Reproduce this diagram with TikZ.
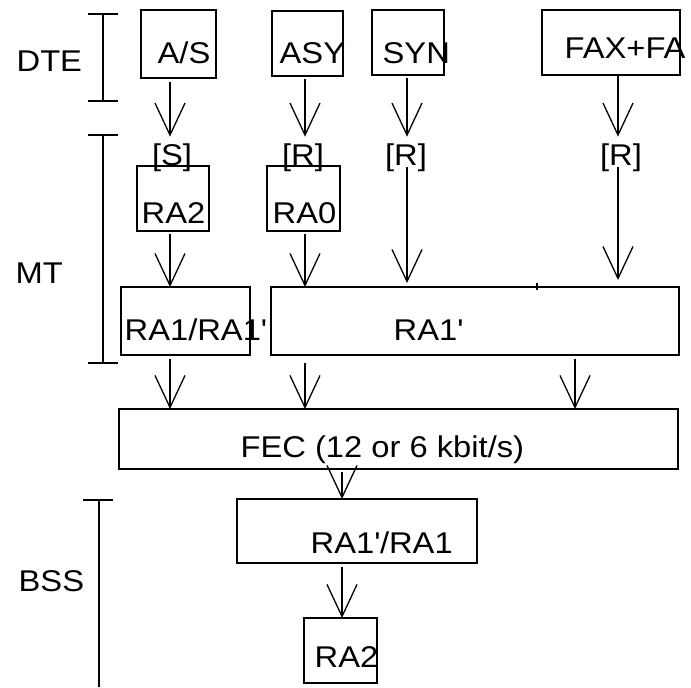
\documentclass[tikz,border=0pt]{standalone}
\usepackage{fontspec}
\setmainfont{Liberation Sans}[FakeStretch=1.09]
\usetikzlibrary{arrows.meta}

\begin{document}
\begin{tikzpicture}[x=0.5pt,y=-0.5pt,>={Straight Barb[length=16pt,width=15pt]},
  font=\fontsize{15}{18}\selectfont,line width=0.65pt,
  box/.style={draw,rectangle,inner sep=0pt,outer sep=0pt},
  txt/.style={inner sep=0pt,anchor=base west},
  lbl/.style={inner sep=3pt,anchor=base},
  brk/.style={line width=1.2pt}]
\useasboundingbox (0,0) rectangle (691,687);
\node[box,minimum width=37.5pt,minimum height=34pt] (as) at (178.5,44) {};
\node[box,minimum width=35.5pt,minimum height=32.5pt] (asy) at (307.5,43.5) {};
\node[box,minimum width=36pt,minimum height=32.5pt] (syn) at (408,42.5) {};
\node[box,minimum width=69pt,minimum height=32.5pt] (fax) at (611,42.5) {};
\node[box,minimum width=36pt,minimum height=32.5pt] (ra2) at (173,198.5) {};
\node[box,minimum width=36.5pt,minimum height=32.5pt] (ra0) at (303.5,198.5) {};
\node[box,minimum width=64.5pt,minimum height=34pt] (ra1a) at (185.5,321) {};
\node[box,minimum width=204pt,minimum height=34pt] (ra1p) at (475,321) {};
\node[box,minimum width=279.5pt,minimum height=30pt] (fec) at (398.5,439) {};
\node[box,minimum width=120pt,minimum height=32pt] (ra1b) at (357,531) {};
\node[box,minimum width=36.5pt,minimum height=32.5pt] (ra2b) at (340.5,650.5) {};
\node[txt] (as-t) at (157,63) {A/S};
\node[txt] (asy-t) at (279,63) {ASY};
\node[txt] (syn-t) at (382,63) {SYN};
\node[txt] (fax-t) at (564,58) {FAX+FA};
\node[txt] (ra2-t) at (141,223) {RA2};
\node[txt] (ra0-t) at (272,223) {RA0};
\node[txt] (ra1a-t) at (124,340) {RA1/RA1\textquotesingle};
\node[txt] (ra1p-t) at (393,340) {RA1\textquotesingle};
\node[txt] (fec-t) at (240,457) {FEC (12 or 6 kbit/s)};
\node[txt] (ra1b-t) at (310,553) {RA1\textquotesingle/RA1};
\node[txt] (ra2b-t) at (314,667) {RA2};
\node[txt] (dte) at (16,71) {DTE};
\node[txt] (mt) at (15,283) {MT};
\node[txt] (bss) at (18,591) {BSS};
\node[lbl] (sl) at (172,165) {[S]};
\node[lbl] (r1) at (303,165) {[R]};
\node[lbl] (r2) at (406,165) {[R]};
\node[lbl] (r3) at (621,165) {[R]};
\coordinate (k1) at (170,0);
\coordinate (k2) at (305,0);
\coordinate (k3) at (407,0);
\coordinate (k4) at (618,0);
\coordinate (k5) at (575,0);
\coordinate (k6) at (342,0);
\draw[->] ([yshift=-2pt]k1 |- as.south) -- (k1 |- sl.north);
\draw[->] ([yshift=-1.5pt]k2 |- asy.south) -- (k2 |- r1.north);
\draw[->] ([yshift=-1.5pt]k3 |- syn.south) -- (k3 |- r2.north);
\draw[->] (k4 |- fax.south) -- (k4 |- r3.north);
\draw[->] ([yshift=-1.5pt]k1 |- ra2.south) -- (k1 |- ra1a.north);
\draw[->] ([yshift=-1.5pt]k2 |- ra0.south) -- (k2 |- ra1p.north);
\draw[->] ([yshift=-1pt]k3 |- r2.base) -- ([yshift=2pt]k3 |- ra1p.north);
\draw[->] ([yshift=-1pt]k4 |- r3.base) -- ([yshift=3.5pt]k4 |- ra1p.north);
\draw[->] ([yshift=-2pt]k1 |- ra1a.south) -- (k1 |- fec.north);
\draw[->] ([yshift=-4pt]k2 |- ra1p.south) -- (k2 |- fec.north);
\draw[->] ([yshift=-2pt]k5 |- ra1p.south) -- (k5 |- fec.north);
\draw[->] ([yshift=-1.5pt]k6 |- fec.south) -- (k6 |- ra1b.north);
\draw[->] ([yshift=-2pt]k6 |- ra1b.south) -- (k6 |- ra2b.north);
\draw (537,283) -- (537,290);
\draw[brk] (88,14) -- (118,14) (103,14) -- (103,101) (88,101) -- (118,101);
\draw[brk] (88,135) -- (118,135) (103,135) -- (103,363) (88,363) -- (118,363);
\draw[brk] (83,500) -- (113,500) (99,500) -- (99,687);
\end{tikzpicture}
\end{document}
